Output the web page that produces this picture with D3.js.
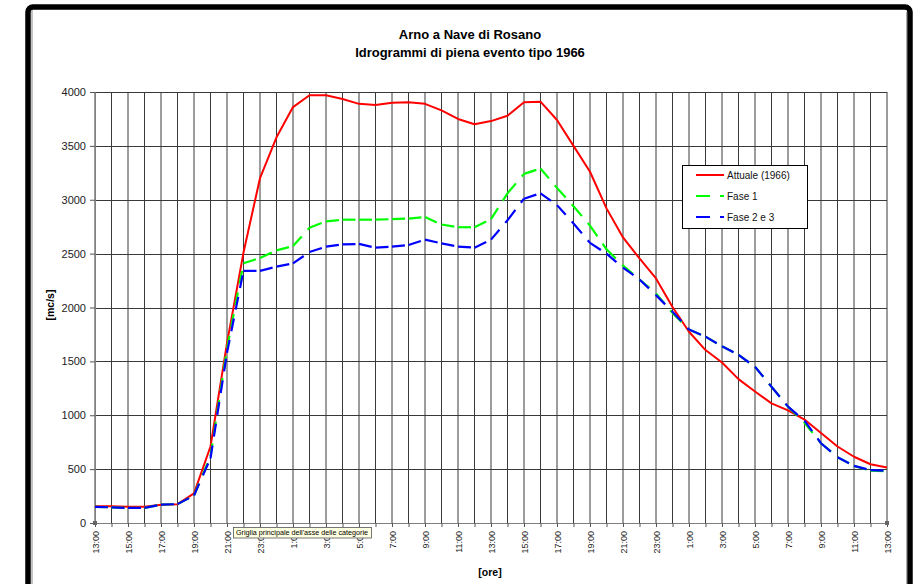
<!DOCTYPE html>
<html>
<head>
<meta charset="utf-8">
<script src="https://cdn.jsdelivr.net/npm/d3@7"></script>
<style>
  html, body { margin: 0; padding: 0; background: #fff; }
  svg { display: block; font-family: "Liberation Sans", Arial, sans-serif; }
</style>
</head>
<body>
<svg id="chart" width="923" height="584"></svg>
<script>
// ---- data ----
const categories = [
  "13:00","14:00","15:00","16:00","17:00","18:00","19:00","20:00","21:00","22:00","23:00",
  "0:00","1:00","2:00","3:00","4:00","5:00","6:00","7:00","8:00","9:00","10:00","11:00",
  "12:00","13:00","14:00","15:00","16:00","17:00","18:00","19:00","20:00","21:00","22:00","23:00",
  "0:00","1:00","2:00","3:00","4:00","5:00","6:00","7:00","8:00","9:00","10:00","11:00",
  "12:00","13:00"
];
const attuale = [155,155,150,150,170,175,275,710,1670,2510,3200,3580,3860,3970,3970,3935,3890,3880,3900,3905,3890,3830,3750,3700,3730,3780,3905,3910,3740,3500,3260,2920,2650,2455,2270,2005,1775,1605,1490,1335,1220,1110,1045,960,835,710,615,545,515];
const fase1 = [150,145,140,140,170,175,255,620,1620,2410,2460,2530,2570,2740,2800,2815,2815,2815,2820,2825,2840,2770,2745,2745,2820,3060,3240,3290,3110,2940,2760,2540,2390,2260,2130,1950,1795,1730,1640,1560,1450,1265,1080,930,740,610,530,485,480];
const fase23 = [150,145,140,140,170,175,255,600,1580,2340,2340,2380,2410,2515,2565,2585,2590,2555,2565,2580,2630,2595,2565,2555,2630,2810,3010,3060,2950,2780,2600,2500,2370,2260,2115,1960,1795,1730,1640,1560,1450,1265,1080,950,740,610,530,490,485];
const yTicks = [0,500,1000,1500,2000,2500,3000,3500,4000];
const seriesNames = ["Attuale (1966)", "Fase 1", "Fase 2 e 3"];
const titleLines = ["Arno a Nave di Rosano", "Idrogrammi di piena evento tipo 1966"];
const yTitle = "[mc/s]";
const xTitle = "[ore]";
const tooltipText = "Griglia principale dell'asse delle categorie";

// ---- layout ----
const svg = d3.select("#chart");
const L = 95, R = 887, T = 92, B = 523;

// chart area frame
svg.append("rect").attr("x", 28).attr("y", 7).attr("width", 882).attr("height", 620)
  .attr("rx", 5).attr("fill", "#fff").attr("stroke", "#000").attr("stroke-width", 5.5);
svg.append("line").attr("x1", 32).attr("x2", 32).attr("y1", 10).attr("y2", 584)
  .attr("stroke", "#999").attr("stroke-width", 1.2);
svg.append("line").attr("x1", 906.5).attr("x2", 906.5).attr("y1", 12).attr("y2", 584)
  .attr("stroke", "#aaa").attr("stroke-width", 1);

const idx = d3.range(categories.length);
const x = d3.scalePoint().domain(idx).range([L, R]);
const y = d3.scaleLinear().domain([0, 4000]).range([B, T]);

// gridlines
const grid = svg.append("g").attr("stroke", "#3a3a3a").attr("stroke-width", 1);
grid.selectAll("line.v").data(idx).join("line")
  .attr("x1", d => x(d)).attr("x2", d => x(d)).attr("y1", T).attr("y2", B);
grid.selectAll("line.h").data(yTicks).join("line")
  .attr("x1", L).attr("x2", R).attr("y1", d => Math.round(y(d)) + 0.5).attr("y2", d => Math.round(y(d)) + 0.5);

// y axis
const yAxis = svg.append("g").attr("transform", `translate(${L},0)`)
  .call(d3.axisLeft(y).tickValues(yTicks).tickSize(5).tickPadding(4).tickFormat(d3.format("d")));
yAxis.select(".domain").attr("stroke", "#808080");
yAxis.selectAll(".tick line").attr("stroke", "#555");
yAxis.selectAll("text").attr("font-size", 11).attr("fill", "#222")
  .attr("font-family", "Liberation Sans, Arial, sans-serif");

// x axis
const xAxis = svg.append("g").attr("transform", `translate(0,${B})`)
  .call(d3.axisBottom(x).tickValues(idx).tickSize(4)
    .tickFormat(d => d % 2 === 0 ? categories[d] : ""));
xAxis.select(".domain").attr("stroke", "#808080");
xAxis.selectAll(".tick line").attr("stroke", "#555");
xAxis.selectAll("text")
  .attr("font-size", 9).attr("fill", "#222")
  .attr("font-family", "Liberation Sans, Arial, sans-serif")
  .attr("transform", "rotate(-90)")
  .attr("text-anchor", "end")
  .attr("x", -8).attr("y", 0).attr("dy", "0.35em");

// series
const line = d3.line().x(d => x(d[0])).y(d => y(d[1]));
function drawSolid(vals, color) {
  svg.append("path").datum(vals.map((v, i) => [i, v]))
    .attr("d", line).attr("fill", "none").attr("stroke", color)
    .attr("stroke-width", 2).attr("stroke-linejoin", "round");
}
function drawDashed(vals, color) {
  const g = svg.append("g");
  for (let i = 0; i < vals.length - 1; i++) {
    g.append("path").datum([[i, vals[i]], [i + 1, vals[i + 1]]])
      .attr("d", line).attr("fill", "none").attr("stroke", color)
      .attr("stroke-width", 2.2).attr("stroke-dasharray", "13,9");
  }
}
drawSolid(attuale, "#ff0000");
drawDashed(fase1, "#00ff00");
drawDashed(fase23, "#0000ff");

// titles
svg.append("text").attr("x", 470).attr("y", 38.5).attr("text-anchor", "middle")
  .attr("font-size", 13).attr("font-weight", "bold").text(titleLines[0]);
svg.append("text").attr("x", 470).attr("y", 57).attr("text-anchor", "middle")
  .attr("font-size", 13).attr("font-weight", "bold").text(titleLines[1]);
svg.append("text").attr("transform", "translate(54,305) rotate(-90)").attr("text-anchor", "middle")
  .attr("font-size", 10.5).attr("font-weight", "bold").text(yTitle);
svg.append("text").attr("x", 490).attr("y", 575.5).attr("text-anchor", "middle")
  .attr("font-size", 10.5).attr("font-weight", "bold").text(xTitle);

// legend
const lg = svg.append("g");
lg.append("rect").attr("x", 682.5).attr("y", 165.5).attr("width", 125).attr("height", 63)
  .attr("fill", "#fff").attr("stroke", "#000").attr("stroke-width", 1);
const legendColors = ["#ff0000", "#00ff00", "#0000ff"];
seriesNames.forEach((name, i) => {
  const cy = 175 + i * 21;
  lg.append("line").attr("x1", 696).attr("x2", 724).attr("y1", cy).attr("y2", cy)
    .attr("stroke", legendColors[i]).attr("stroke-width", 2)
    .attr("stroke-dasharray", i === 0 ? null : "14,10");
  lg.append("text").attr("x", 727).attr("y", cy + 3.5).attr("font-size", 10).attr("fill", "#111").text(name);
});

// selection handles
[[L, B], [R, B]].forEach(p => {
  svg.append("rect").attr("x", p[0] - 2).attr("y", p[1] - 2).attr("width", 4).attr("height", 4)
    .attr("fill", "#666");
});

// tooltip
const tt = svg.append("g");
tt.append("rect").attr("x", 233.5).attr("y", 527.5).attr("width", 138).attr("height", 10.5)
  .attr("fill", "#ffffe1").attr("stroke", "#555").attr("stroke-width", 0.8);
tt.append("text").attr("x", 236).attr("y", 535.3).attr("font-size", 7).attr("fill", "#000")
  .attr("textLength", 132).attr("lengthAdjust", "spacingAndGlyphs").text(tooltipText);
</script>
</body>
</html>
